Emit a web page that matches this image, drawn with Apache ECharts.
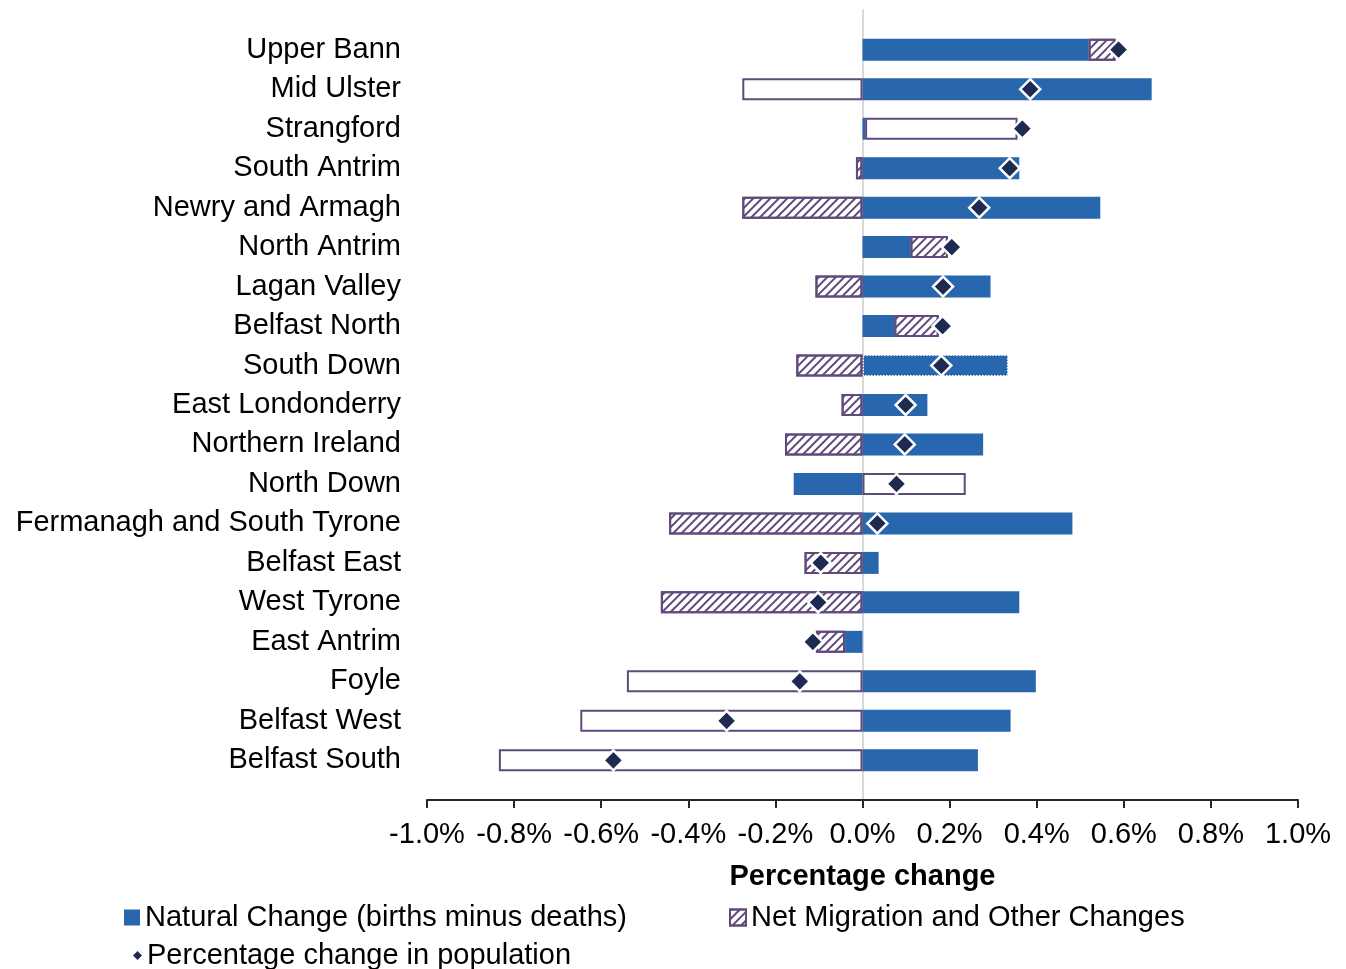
<!DOCTYPE html>
<html>
<head>
<meta charset="utf-8">
<title>Population change by constituency</title>
<script src="https://cdn.jsdelivr.net/npm/echarts@6/dist/echarts.min.js"></script>
<style>
  html, body { margin: 0; padding: 0; background: #fff; }
  #main { width: 1346px; height: 969px; }
</style>
</head>
<body>
<div id="main"></div>
<script>
// categories, top to bottom
const categories = [
  'Upper Bann', 'Mid Ulster', 'Strangford', 'South Antrim', 'Newry and Armagh',
  'North Antrim', 'Lagan Valley', 'Belfast North', 'South Down', 'East Londonderry',
  'Northern Ireland', 'North Down', 'Fermanagh and South Tyrone', 'Belfast East',
  'West Tyrone', 'East Antrim', 'Foyle', 'Belfast West', 'Belfast South'
]
// natural change (births minus deaths), %
const naturalChange = [
  0.519, 0.664, 0.006, 0.36, 0.546, 0.11, 0.294, 0.073, 0.335, 0.149,
  0.277, -0.158, 0.482, 0.037, 0.36, -0.04, 0.398, 0.34, 0.265
]
// net migration and other changes, %
const netMigration = [
  0.062, -0.276, 0.35, -0.015, -0.276, 0.086, -0.108, 0.102, -0.152, -0.048,
  -0.178, 0.237, -0.444, -0.133, -0.463, -0.067, -0.541, -0.648, -0.835
]
// percentage change in population, %
const percentChange = [
  0.588, 0.385, 0.367, 0.338, 0.268, 0.205, 0.185, 0.184, 0.181, 0.099,
  0.097, 0.078, 0.034, -0.096, -0.102, -0.114, -0.144, -0.312, -0.572
]

// rows where the migration bar is drawn without hatching
const plainMigration = ['Mid Ulster', 'Strangford', 'North Down', 'Foyle', 'Belfast West', 'Belfast South']

const BLUE = '#2866ae'
const PURPLE = '#604a7b'
const NAVY = '#1f2a52'
const FONT = "'Liberation Sans', Arial, sans-serif"
const FONT_SIZE = 29

const hatch = {
  symbol: 'rect',
  symbolSize: 1,
  dashArrayX: [1, 0],
  dashArrayY: [2, 4],
  rotation: -Math.PI / 4,
  color: PURPLE
}

const chart = echarts.init(document.getElementById('main'))

const hatchedData = netMigration.map((v, i) => plainMigration.includes(categories[i]) ? '-' : v)
const plainData = netMigration.map((v, i) => plainMigration.includes(categories[i]) ? v : '-')
const naturalData = naturalChange.map((v, i) => {
  // South Down bar has a dotted outline in the original
  if (categories[i] === 'South Down') {
    return { value: v, itemStyle: { borderColor: '#fff', borderType: 'dotted', borderWidth: 1.5 } }
  }
  return v
})

const legendText = { fontSize: FONT_SIZE, fontFamily: FONT, color: '#000' }

chart.setOption({
  animation: false,
  textStyle: { fontFamily: FONT },
  legend: [{
    data: ['Natural Change (births minus deaths)'],
    left: 119,
    top: 898,
    icon: 'rect',
    itemWidth: 16,
    itemHeight: 16,
    textStyle: legendText
  }, {
    data: ['Net Migration and Other Changes'],
    left: 724,
    top: 898,
    icon: 'rect',
    itemWidth: 16,
    itemHeight: 16,
    itemStyle: { decal: hatch, borderColor: PURPLE, borderWidth: 2 },
    textStyle: legendText
  }, {
    data: ['Percentage change in population'],
    left: 128,
    top: 936,
    icon: 'diamond',
    itemWidth: 9,
    itemHeight: 9,
    itemStyle: { borderWidth: 0 },
    textStyle: legendText
  }],
  grid: [
    // bars
    { left: 427, right: 48, top: 30, bottom: 189 },
    // axis frame (zero line + x axis)
    { left: 427, right: 48, top: 10, bottom: 169 }
  ],
  xAxis: [{
    gridIndex: 0,
    type: 'value',
    min: -1,
    max: 1,
    interval: 0.2,
    show: false,
    splitLine: { show: false }
  }, {
    gridIndex: 1,
    type: 'value',
    min: -1,
    max: 1,
    interval: 0.2,
    name: 'Percentage change',
    nameLocation: 'middle',
    nameGap: 62,
    nameTextStyle: { fontSize: FONT_SIZE, fontWeight: 'bold', color: '#000', fontFamily: FONT },
    axisLine: { show: true, lineStyle: { color: '#262626', width: 2 } },
    axisTick: { show: true, length: 8, lineStyle: { color: '#262626', width: 2 } },
    axisLabel: {
      fontSize: FONT_SIZE,
      color: '#000',
      margin: 20,
      formatter: v => v.toFixed(1) + '%'
    },
    splitLine: { show: false }
  }],
  yAxis: [{
    gridIndex: 0,
    type: 'category',
    inverse: true,
    data: categories,
    axisLine: { show: false },
    axisTick: { show: false },
    axisLabel: { fontSize: FONT_SIZE, color: '#000', margin: 26, padding: [4, 0, 0, 0] }
  }, {
    gridIndex: 1,
    type: 'category',
    inverse: true,
    data: categories,
    axisLine: { show: true, onZero: true, lineStyle: { color: '#d9d9d9', width: 2 } },
    axisTick: { show: false },
    axisLabel: { show: false }
  }],
  series: [{
    name: 'Natural Change (births minus deaths)',
    type: 'bar',
    stack: 'total',
    barWidth: 22,
    itemStyle: { color: BLUE },
    data: naturalData,
    z: 3
  }, {
    name: 'Net Migration and Other Changes',
    type: 'bar',
    stack: 'total',
    barWidth: 22,
    itemStyle: { color: '#fff', borderColor: PURPLE, borderWidth: 2, decal: hatch },
    data: hatchedData,
    z: 3
  }, {
    name: 'Net Migration (plain)',
    type: 'bar',
    stack: 'total',
    barWidth: 22,
    itemStyle: { color: '#fff', borderColor: PURPLE, borderWidth: 2 },
    data: plainData,
    z: 3
  }, {
    name: 'Percentage change in population',
    type: 'scatter',
    symbol: 'diamond',
    symbolSize: 20,
    itemStyle: { color: NAVY, borderColor: '#fff', borderWidth: 2.5, opacity: 1 },
    data: percentChange,
    z: 5
  }]
})
</script>
</body>
</html>
